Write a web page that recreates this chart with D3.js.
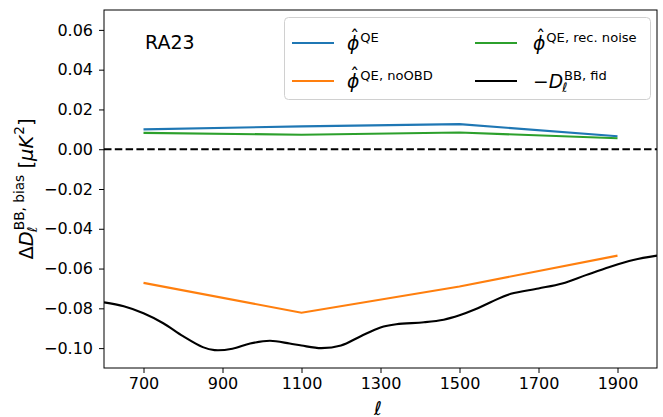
<!DOCTYPE html>
<html>
<head>
<meta charset="utf-8">
<script src="https://cdn.jsdelivr.net/npm/d3@7"></script>
<style>
  body { margin: 0; background: #fff; }
  svg { display: block; font-family: "DejaVu Sans", sans-serif; }
</style>
</head>
<body>
<div id="chart"></div>
<script>
// ----------------------------
// Data
// ----------------------------
const ellBins = [700, 1100, 1500, 1900];
const biasQE = [0.0100, 0.0115, 0.0126, 0.0065];
const biasNoOBD = [-0.0672, -0.0822, -0.0690, -0.0535];
const biasRecNoise = [0.0082, 0.0073, 0.0084, 0.0055];

const fidEll = [600, 650, 700, 750, 800, 850, 880, 925, 970, 1020, 1070, 1100, 1150, 1200,
  1250, 1300, 1340, 1410, 1460, 1500, 1540, 1580, 1630, 1700, 1760, 1820, 1880, 1940, 2000];
const fidNegDl = [-0.0770, -0.0790, -0.0825, -0.0875, -0.0940, -0.0995, -0.1010, -0.1003,
  -0.0977, -0.0963, -0.0977, -0.0987, -0.1000, -0.0987, -0.0940, -0.0896, -0.0880, -0.0870,
  -0.0857, -0.0835, -0.0805, -0.0768, -0.0727, -0.0700, -0.0675, -0.0633, -0.0592, -0.0557, -0.0535];

const xTicks = [700, 900, 1100, 1300, 1500, 1700, 1900];
const yTicks = [-0.10, -0.08, -0.06, -0.04, -0.02, 0.00, 0.02, 0.04, 0.06];

// ----------------------------
// Figure setup
// ----------------------------
const W = 663, H = 417;
const margin = {left: 104, top: 10, right: 6, bottom: 49};
const pw = W - margin.left - margin.right;
const ph = H - margin.top - margin.bottom;

const svg = d3.select("#chart").append("svg")
  .attr("width", W).attr("height", H);

const x = d3.scaleLinear().domain([600, 2000]).range([0, pw]);
const y = d3.scaleLinear().domain([-0.11, 0.07]).range([ph, 0]);

const g = svg.append("g").attr("transform", `translate(${margin.left},${margin.top})`);

g.append("clipPath").attr("id", "clip")
  .append("rect").attr("width", pw).attr("height", ph);

// zero line
g.append("line")
  .attr("x1", 0).attr("x2", pw)
  .attr("y1", y(0)).attr("y2", y(0))
  .attr("stroke", "#000").attr("stroke-width", 2)
  .attr("stroke-dasharray", "7.5,3.3");

const line = d3.line().x(d => x(d[0])).y(d => y(d[1]));
const smooth = d3.line().x(d => x(d[0])).y(d => y(d[1])).curve(d3.curveCatmullRom.alpha(0.5));

const series = [
  {vals: biasQE, color: "#1f77b4"},
  {vals: biasNoOBD, color: "#ff7f0e"},
  {vals: biasRecNoise, color: "#2ca02c"}
];

const plot = g.append("g").attr("clip-path", "url(#clip)");

plot.append("path")
  .datum(d3.zip(fidEll, fidNegDl))
  .attr("d", smooth)
  .attr("fill", "none").attr("stroke", "#000").attr("stroke-width", 2.1);

series.forEach(s => {
  plot.append("path")
    .datum(d3.zip(ellBins, s.vals))
    .attr("d", line)
    .attr("fill", "none").attr("stroke", s.color).attr("stroke-width", 2.1);
});

// ----------------------------
// Axes
// ----------------------------
const xAxis = g.append("g").attr("transform", `translate(0,${ph})`)
  .call(d3.axisBottom(x).tickValues(xTicks).tickSize(5).tickPadding(5).tickFormat(d3.format("d")));
const yAxis = g.append("g")
  .call(d3.axisLeft(y).tickValues(yTicks).tickSize(5).tickPadding(6).tickFormat(d3.format(".2f")));

[xAxis, yAxis].forEach(a => {
  a.select(".domain").remove();
  a.selectAll("line").attr("stroke", "#000").attr("stroke-width", 1);
  a.selectAll("text").attr("fill", "#000").style("font-size", "16px")
    .style("font-family", "DejaVu Sans");
});

g.append("rect").attr("width", pw).attr("height", ph)
  .attr("fill", "none").attr("stroke", "#000").attr("stroke-width", 1);

// ----------------------------
// Mathtext-like labels
// ----------------------------
function drawMath(parent, x0, y0, pieces, size) {
  let cx = x0;
  pieces.forEach(p => {
    let w = 0;
    if (p.t) {
      const t = parent.append("text").attr("x", cx).attr("y", y0)
        .style("font-size", size + "px")
        .style("font-style", p.it ? "italic" : "normal")
        .text(p.t);
      w = t.node().getComputedTextLength();
      if (p.hat) {
        parent.append("text").attr("x", cx + w / 2 + 1.5).attr("y", y0 - size * 0.3)
          .attr("text-anchor", "middle")
          .style("font-size", size + "px").text("\u02C6");
      }
    }
    cx += w;
    let adv = 0;
    if (p.sub) {
      const t = parent.append("text").attr("x", cx - (p.it ? 1 : 0)).attr("y", y0 + size * 0.22)
        .style("font-size", size * 0.7 + "px").style("font-style", "italic").text(p.sub);
      adv = Math.max(adv, t.node().getComputedTextLength());
    }
    if (p.sup) {
      const t = parent.append("text").attr("x", cx + 1).attr("y", y0 - size * 0.45)
        .style("font-size", size * 0.7 + "px").text(p.sup);
      adv = Math.max(adv, t.node().getComputedTextLength() + 1);
    }
    cx += adv;
  });
  return cx - x0;
}

// RA23 label
svg.append("text").attr("x", 145).attr("y", 49)
  .style("font-size", "19px").text("RA23");

// y label
const yl = svg.append("g").attr("transform", "translate(33,189) rotate(-90)");
const ylInner = yl.append("g");
const ylw = drawMath(ylInner, 0, 0, [
  {t: "\u0394"},
  {t: "D", it: true, sub: "\u2113", sup: "BB, bias"},
  {t: "\u00A0[", },
  {t: "\u03BCK", it: true, sup: "2"},
  {t: "]"}
], 19.5);
ylInner.attr("transform", `translate(${-ylw / 2},0)`);

// x label
svg.append("text").attr("x", 378).attr("y", 415)
  .attr("text-anchor", "middle")
  .style("font-size", "19px").style("font-style", "italic").text("\u2113");

// ----------------------------
// Legend
// ----------------------------
const legend = svg.append("g");
legend.append("rect")
  .attr("x", 284.5).attr("y", 17.5).attr("width", 366).attr("height", 82)
  .attr("rx", 4).attr("ry", 4)
  .attr("fill", "#fff").attr("fill-opacity", 0.8)
  .attr("stroke", "#d0d0d0").attr("stroke-width", 1);

const legendItems = [
  {color: "#1f77b4", cx: 292, tx: 347, cy: 43, pieces: [{t: "\u03D5", it: true, hat: true, sup: "QE"}]},
  {color: "#ff7f0e", cx: 292, tx: 347, cy: 81, pieces: [{t: "\u03D5", it: true, hat: true, sup: "QE, noOBD"}]},
  {color: "#2ca02c", cx: 475, tx: 533, cy: 43, pieces: [{t: "\u03D5", it: true, hat: true, sup: "QE, rec. noise"}]},
  {color: "#000000", cx: 475, tx: 533, cy: 81, pieces: [{t: "\u2212"}, {t: "D", it: true, sub: "\u2113", sup: "BB, fid"}]}
];

legendItems.forEach(it => {
  legend.append("line")
    .attr("x1", it.cx).attr("x2", it.cx + 42)
    .attr("y1", it.cy).attr("y2", it.cy)
    .attr("stroke", it.color).attr("stroke-width", 2.1);
  drawMath(legend, it.tx, it.cy + 7, it.pieces, 18.7);
});
</script>
</body>
</html>
